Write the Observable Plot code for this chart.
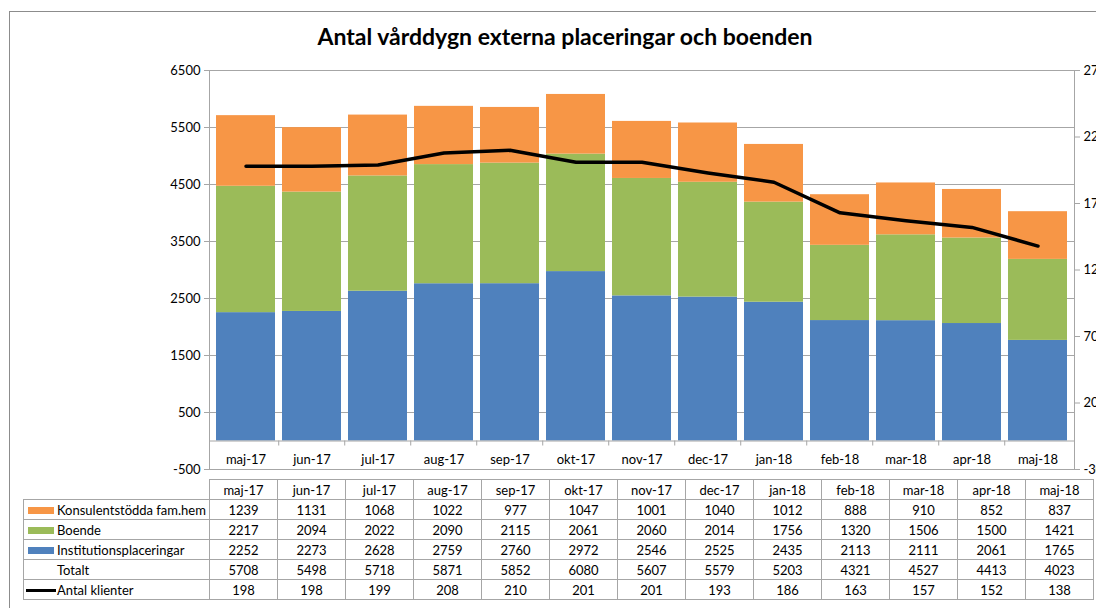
<!DOCTYPE html>
<html>
<head>
<meta charset="utf-8">
<script src="https://cdn.jsdelivr.net/npm/d3@7"></script>
<script src="https://cdn.jsdelivr.net/npm/@observablehq/plot@0.6"></script>
<style>
  html, body { margin: 0; padding: 0; background: #fff; width: 1096px; height: 608px; overflow: hidden; }
  #border { position: absolute; left: 9px; top: 11px; width: 1200px; height: 700px;
            border-left: 1px solid #8c8c8c; border-top: 1px solid #8c8c8c; z-index: 5; pointer-events: none; }
  #title { position: absolute; top: 22px; left: 0; width: 1130px; text-align: center;
           font-family: Lato, sans-serif; font-weight: bold; font-size: 23px; color: #000; white-space: nowrap; }
  #chart { position: absolute; left: 0; top: 0; }
  #table { position: absolute; left: 23px; top: 479px; border-collapse: collapse; table-layout: fixed;
           font-family: Lato, sans-serif; font-size: 13px; color: #000; }
  #table td { border: 1px solid #a6a6a6; height: 19px; padding: 0; text-align: center; white-space: nowrap; overflow: hidden; }
  #table td.blank { border-top: none; border-left: none; }
  #table td.lab { text-align: left; padding-left: 4px; }
  .sw { display: inline-block; width: 26px; height: 7px; margin-right: 3px; vertical-align: 1px; }
  .ln { display: inline-block; width: 30px; height: 3px; margin-right: 1px; margin-left: -2px; background: #000; vertical-align: 3px; }
  .nosw { display: inline-block; width: 29px; }
</style>
</head>
<body>
<div id="border"></div>
<div id="title">Antal vårddygn externa placeringar och boenden</div>
<div id="chart"></div>
<table id="table"></table>
<script>
// ---- Data ----
const months = ["maj-17","jun-17","jul-17","aug-17","sep-17","okt-17","nov-17","dec-17","jan-18","feb-18","mar-18","apr-18","maj-18"];
const konsulent   = [1239,1131,1068,1022,977,1047,1001,1040,1012,888,910,852,837];
const boende      = [2217,2094,2022,2090,2115,2061,2060,2014,1756,1320,1506,1500,1421];
const institution = [2252,2273,2628,2759,2760,2972,2546,2525,2435,2113,2111,2061,1765];
const totalt      = [5708,5498,5718,5871,5852,6080,5607,5579,5203,4321,4527,4413,4023];
const klienter    = [198,198,199,208,210,201,201,193,186,163,157,152,138];
const seriesNames = ["Institutionsplaceringar","Boende","Konsulentstödda fam.hem"];
const seriesColors = ["#4F81BD","#9BBB59","#F79646"];
const leftTicks  = [-500,500,1500,2500,3500,4500,5500,6500];
const rightTicks = [-30,20,70,120,170,220,270];

// ---- Layout ----
const W = 1096, H = 480, mL = 209, mR = 22, mT = 70, mB = 11;
const yMin = -500, yMax = 6500, rMin = -30, rMax = 270;
const toLeft = r => yMin + (r - rMin) * (yMax - yMin) / (rMax - rMin);
const fromLeft = l => Math.round(rMin + (l - yMin) * (rMax - rMin) / (yMax - yMin));
const pInner = 0.1, pOuter = 0.05;
const step = (W - mL - mR) / (months.length - pInner + 2 * pOuter);
const pxPerUnit = (H - mT - mB) / (yMax - yMin);

const stackData = months.flatMap((m, i) => [
  {month: m, series: seriesNames[0], value: institution[i]},
  {month: m, series: seriesNames[1], value: boende[i]},
  {month: m, series: seriesNames[2], value: konsulent[i]}
]);
const lineData = months.map((m, i) => ({month: m, v: toLeft(klienter[i])}));

const gray = "#a6a6a6";
const chart = Plot.plot({
  width: W, height: H, marginTop: mT, marginBottom: mB, marginLeft: mL, marginRight: mR,
  style: {fontFamily: "Lato, sans-serif", fontSize: "13px", color: "#000", background: "transparent", overflow: "visible"},
  x: {domain: months, paddingInner: pInner, paddingOuter: pOuter, axis: null},
  y: {domain: [yMin, yMax], axis: null},
  color: {domain: seriesNames, range: seriesColors},
  marks: [
    Plot.gridY(leftTicks, {stroke: gray, strokeOpacity: 1}),
    Plot.barY(stackData, {x: "month", y: "value", fill: "series", order: seriesNames}),
    Plot.ruleY([0], {stroke: gray}),
    Plot.ruleX(months.slice(1), {x: d => d, y1: 0, y2: -5 / pxPerUnit, dx: -step / 2, stroke: gray}),
    Plot.line(lineData, {x: "month", y: "v", stroke: "#000", strokeWidth: 3.5}),
    Plot.frame({stroke: gray}),
    Plot.axisY(leftTicks, {anchor: "left", tickSize: 5, tickPadding: 4, stroke: gray, fill: "#000", tickFormat: d => String(d), label: null}),
    Plot.axisY(rightTicks.map(toLeft), {anchor: "right", tickSize: 5, tickPadding: 4, stroke: gray, fill: "#000", tickFormat: fromLeft, label: null}),
    Plot.axisX({anchor: "bottom", tickSize: 0, tickPadding: 3, dy: -18, fill: "#000", label: null})
  ]
});
document.getElementById("chart").append(chart);

// ---- Data table ----
const table = d3.select("#table");
const colgroup = table.append("colgroup");
colgroup.append("col").style("width", "186px");
months.forEach(() => colgroup.append("col").style("width", "68px"));
const head = table.append("tr");
head.append("td").attr("class", "blank");
months.forEach(m => head.append("td").text(m));
const rows = [
  {label: seriesNames[2], color: seriesColors[2], values: konsulent},
  {label: seriesNames[1], color: seriesColors[1], values: boende},
  {label: seriesNames[0], color: seriesColors[0], values: institution},
  {label: "Totalt", color: null, values: totalt},
  {label: "Antal klienter", color: "line", values: klienter}
];
rows.forEach(r => {
  const tr = table.append("tr");
  const td = tr.append("td").attr("class", "lab");
  if (r.color === "line") td.append("span").attr("class", "ln");
  else if (r.color) td.append("span").attr("class", "sw").style("background", r.color);
  else td.append("span").attr("class", "nosw");
  td.append("span").text(r.label);
  r.values.forEach(v => tr.append("td").text(v));
});
</script>
</body>
</html>
